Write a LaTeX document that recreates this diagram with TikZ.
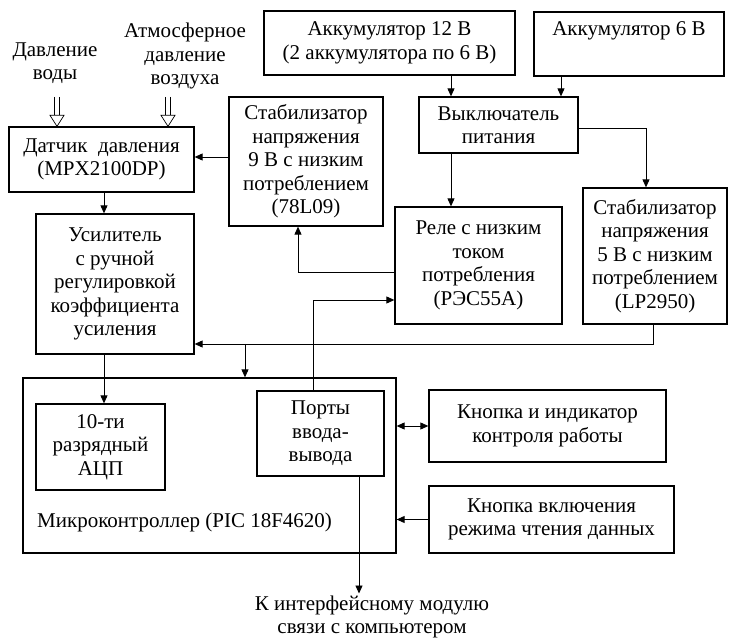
\documentclass[tikz,border=0pt]{standalone}
\usepackage{fontspec}
\setmainfont{Liberation Serif}
\usetikzlibrary{arrows.meta}

\tikzset{
    block/.style={draw, line width=1.3pt, align=center, inner sep=2pt,
        font=\fontsize{21}{23.5}\selectfont},
    txt/.style={align=center, inner sep=2pt, font=\fontsize{21}{23.5}\selectfont},
    arr/.style={line width=0.9pt, -{Triangle[length=8pt,width=7pt]}},
    dblarr/.style={line width=0.9pt, {Triangle[length=8pt,width=7pt]}-{Triangle[length=8pt,width=7pt]}},
    hollow/.style={line width=0.7pt, line join=miter}
}

\begin{document}
\begin{tikzpicture}[x=1pt, y=-1pt]
    \useasboundingbox (0,0) rectangle (729,639);

    % Inputs
    \node[txt] (water) at (55,63) {Давление\\воды};
    \node[txt] (air) at (185,56) {Атмосферное\\давление\\воздуха};
    \coordinate (waterin) at (57,97);
    \coordinate (airin) at (168,97);

    % Power supply
    \node[block, minimum width=251pt, minimum height=64pt] (acc12) at (389.5,43) {Аккумулятор 12 В\\(2 аккумулятора по 6 В)};
    \node[block, minimum width=190pt, minimum height=64pt] (acc6) at (629,44) {Аккумулятор 6 В\\\strut};
    \node[block, minimum width=159pt, minimum height=56pt] (switch) at (498.5,125) {Выключатель\\питания};
    \node[block, minimum width=167pt, minimum height=117pt] (relay) at (478.5,265.5) {Реле с низким\\током\\потребления\\(РЭС55А)};
    \node[block, minimum width=154pt, minimum height=129pt] (stab9) at (306,161.5) {Стабилизатор\\напряжения\\9 В с низким\\потреблением\\(78L09)};
    \node[block, minimum width=144pt, minimum height=136pt] (stab5) at (655,256) {Стабилизатор\\напряжения\\5 В с низким\\потреблением\\(LP2950)};

    % Measuring part
    \node[block, minimum width=185pt, minimum height=65pt] (sensor) at (101.5,159.5) {Датчик\ \ давления\\(MPX2100DP)};
    \node[block, minimum width=158pt, minimum height=140pt] (amp) at (115,284) {Усилитель\\с ручной\\регулировкой\\коэффициента\\усиления};

    % Microcontroller
    \node[block, minimum width=373pt, minimum height=175pt] (mcu) at (209.5,465.5) {};
    \node[block, minimum width=129pt, minimum height=86pt] (adc) at (100.5,447) {10-ти\\разрядный\\АЦП};
    \node[block, minimum width=127pt, minimum height=85pt] (ports) at (320.5,433.5) {Порты\\ввода-\\вывода};
    \node[txt, anchor=west] (mcutext) at (35,522) {Микроконтроллер (PIC 18F4620)};

    % Buttons
    \node[block, minimum width=237pt, minimum height=72pt] (btnled) at (547.5,426) {Кнопка и индикатор\\контроля работы};
    \node[block, minimum width=245pt, minimum height=67pt] (btnread) at (551.5,519.5) {Кнопка включения\\режима чтения данных};

    % Output
    \node[txt] (out) at (372,617) {К интерфейсному модулю\\связи с компьютером};

    % Pressure inputs (hollow double arrows)
    \foreach \p in {waterin, airin} {
        \draw[hollow] ([xshift=-2.5pt]\p) -- ([xshift=-2.5pt,yshift=11pt]\p |- sensor.north)
                      ([xshift=2.5pt]\p) -- ([xshift=2.5pt,yshift=11pt]\p |- sensor.north);
        \draw[hollow] ([xshift=-7pt,yshift=11pt]\p |- sensor.north) -- (\p |- sensor.north)
                      -- ([xshift=7pt,yshift=11pt]\p |- sensor.north) -- cycle;
    }

    % Power lines
    \draw[arr] ([xshift=-47.5pt]switch.north |- acc12.south) -- ([xshift=-47.5pt]switch.north);
    \draw[arr] ([xshift=62.5pt]switch.north |- acc6.south) -- ([xshift=62.5pt]switch.north);
    \draw[arr] ([yshift=-3pt]switch.east) -| ([xshift=-9pt]stab5.north);
    \draw[arr] ([xshift=-47.5pt]switch.south) -- ([xshift=-47.5pt]switch.south |- relay.north);
    \draw[arr] ([yshift=-6.5pt]relay.west) -| ([xshift=-8pt]stab9.south);
    \draw[arr] ([yshift=4.5pt]stab9.west) -- ([yshift=4.5pt]stab9.west -| sensor.east);
    \coordinate (pwr) at ([yshift=-60pt]amp.east);
    \draw[arr] ([xshift=-2pt]stab5.south) |- (pwr);
    \draw[arr] (pwr -| 245,0) -- (mcu.north -| 245,0);

    % Signal lines
    \draw[arr] ([xshift=-11pt]amp.south |- sensor.south) -- ([xshift=-11pt]amp.north);
    \draw[arr] ([xshift=-11pt]amp.south) -- ([xshift=-11pt]amp.south |- adc.north);
    \draw[arr] ([xshift=-7.5pt]ports.north) |- ([yshift=-34.5pt]relay.west);
    \draw[arr] ([xshift=38.5pt]ports.south) -- ([xshift=38.5pt]ports.south |- out.north);
    \draw[dblarr] (btnled.west) -- (btnled.west -| mcu.east);
    \draw[arr] (btnread.west) -- (btnread.west -| mcu.east);
\end{tikzpicture}
\end{document}
